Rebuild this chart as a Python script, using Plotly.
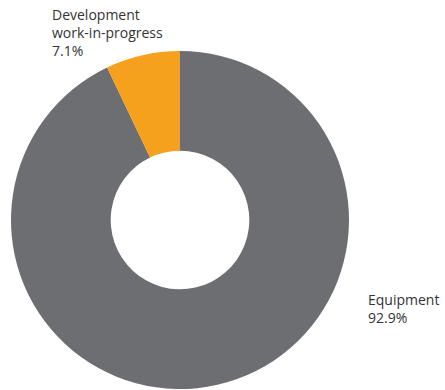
import plotly.graph_objects as go

# Slices run clockwise from 12 o'clock, so the small one ends up just left of the top
categories = ["Equipment", "Development<br>work-in-progress"]
shares = [92.9, 7.1]
colors = ["#6d6e72", "#f5a11e"]

W, H = 445, 390
cx, cy, r = 180, 220, 169

fig = go.Figure(go.Pie(
    labels=categories,
    values=shares,
    hole=0.41,
    sort=False,
    direction="clockwise",
    rotation=0,
    marker=dict(colors=colors, line=dict(width=0)),
    textinfo="none",
    hoverinfo="label+percent",
    showlegend=False,
    domain=dict(x=[(cx - r) / W, (cx + r) / W], y=[(H - cy - r) / H, (H - cy + r) / H]),
))

font = dict(family="Open Sans, Noto Sans, sans-serif", size=14, color="#333333")
label_pos = [(367, 289), (51, 4)]
for name, val, (lx, ly) in zip(categories, shares, label_pos):
    fig.add_annotation(
        text=f"{name}<br>{val:.1f}%",
        x=lx / W, y=1 - ly / H, xref="paper", yref="paper",
        xanchor="left", yanchor="top", align="left",
        showarrow=False, font=font, borderpad=0,
    )

fig.update_layout(
    width=W, height=H,
    margin=dict(l=0, r=0, t=0, b=0),
    paper_bgcolor="white", plot_bgcolor="white",
)
fig.write_html("out.html")
